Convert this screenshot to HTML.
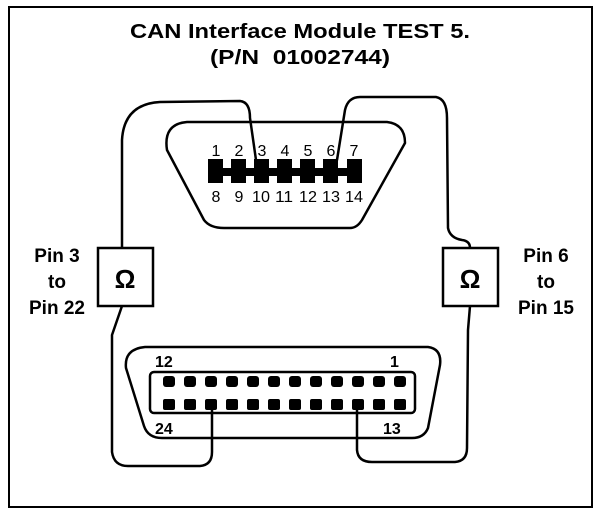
<!DOCTYPE html>
<html><head><meta charset="utf-8"><style>
html,body{margin:0;padding:0;background:#fff;}
svg{display:block;}
text{font-family:"Liberation Sans",Arial,sans-serif;fill:#000;}
</style></head><body>
<svg width="608" height="516" viewBox="0 0 608 516" xmlns="http://www.w3.org/2000/svg">
<rect x="9" y="7" width="583" height="500" fill="#fff" stroke="#000" stroke-width="2"/>
<text x="300" y="38" font-size="20" font-weight="bold" text-anchor="middle" textLength="340" lengthAdjust="spacingAndGlyphs">CAN Interface Module TEST 5.</text>
<text x="300" y="64" font-size="20" font-weight="bold" text-anchor="middle" textLength="180" lengthAdjust="spacingAndGlyphs" xml:space="preserve">(P/N  01002744)</text>

<g fill="none" stroke="#000" stroke-width="2.5" stroke-linejoin="round" stroke-linecap="round">
<path d="M187,122 L387,122 Q405,124 405,143 L362,220 Q357,228 350,228 L224,228 Q210,228 204,220 L167,150 Q163,124 187,122 Z"/>
<path d="M122,248 L122,140 Q124,104 160,102 L240,101 Q250,102 250,118 L256,160"/>
<path d="M337,160 L345,110 Q348,97 360,97 L436,97 Q447,99 447,118 L448,228 Q450,238 462,240 Q470,241 470,248"/>
<path d="M145,347 L428,347 Q442,349 440,365 L428,428 Q424,438 412,438 L162,438 Q148,438 144,426 L126,368 Q124,349 145,347 Z"/>
<rect x="150" y="372" width="265" height="41" rx="4"/>
<path d="M122,306 L112,335 L112,452 Q114,466 128,466 L200,466 Q212,465 212,452 L212,406"/>
<path d="M357,406 L357,450 Q358,462 372,462 L455,462 Q467,461 467,448 L468,330 L470,306"/>
</g>

<g fill="#000">
<rect x="208" y="168" width="154" height="8"/>
<rect x="208" y="159" width="15" height="24"/>
<rect x="231" y="159" width="15" height="24"/>
<rect x="254" y="159" width="15" height="24"/>
<rect x="277" y="159" width="15" height="24"/>
<rect x="300" y="159" width="15" height="24"/>
<rect x="323" y="159" width="15" height="24"/>
<rect x="347" y="159" width="15" height="24"/>
</g>
<g font-size="16" text-anchor="middle">
<text x="216" y="156">1</text><text x="239" y="156">2</text><text x="262" y="156">3</text><text x="285" y="156">4</text><text x="308" y="156">5</text><text x="331" y="156">6</text><text x="354" y="156">7</text>
<text x="216" y="202">8</text><text x="239" y="202">9</text><text x="261" y="202" textLength="18" lengthAdjust="spacingAndGlyphs">10</text><text x="284" y="202" textLength="18" lengthAdjust="spacingAndGlyphs">11</text><text x="308" y="202" textLength="18" lengthAdjust="spacingAndGlyphs">12</text><text x="331" y="202" textLength="18" lengthAdjust="spacingAndGlyphs">13</text><text x="354" y="202" textLength="18" lengthAdjust="spacingAndGlyphs">14</text>
</g>

<g fill="#000">
<rect x="163" y="376" width="12" height="11" rx="3"/><rect x="184" y="376" width="12" height="11" rx="3"/><rect x="205" y="376" width="12" height="11" rx="3"/><rect x="226" y="376" width="12" height="11" rx="3"/><rect x="247" y="376" width="12" height="11" rx="3"/><rect x="268" y="376" width="12" height="11" rx="3"/><rect x="289" y="376" width="12" height="11" rx="3"/><rect x="310" y="376" width="12" height="11" rx="3"/><rect x="331" y="376" width="12" height="11" rx="3"/><rect x="352" y="376" width="12" height="11" rx="3"/><rect x="373" y="376" width="12" height="11" rx="3"/><rect x="394" y="376" width="12" height="11" rx="3"/>
<rect x="163" y="399" width="12" height="11" rx="2"/><rect x="184" y="399" width="12" height="11" rx="2"/><rect x="205" y="399" width="12" height="11" rx="2"/><rect x="226" y="399" width="12" height="11" rx="2"/><rect x="247" y="399" width="12" height="11" rx="2"/><rect x="268" y="399" width="12" height="11" rx="2"/><rect x="289" y="399" width="12" height="11" rx="2"/><rect x="310" y="399" width="12" height="11" rx="2"/><rect x="331" y="399" width="12" height="11" rx="2"/><rect x="352" y="399" width="12" height="11" rx="2"/><rect x="373" y="399" width="12" height="11" rx="2"/><rect x="394" y="399" width="12" height="11" rx="2"/>
</g>
<g font-size="16" font-weight="bold">
<text x="155" y="367">12</text><text x="390" y="367">1</text>
<text x="155" y="434">24</text><text x="383" y="434">13</text>
</g>

<rect x="98" y="248" width="55" height="58" fill="#fff" stroke="#000" stroke-width="2.5"/>
<rect x="443" y="248" width="55" height="58" fill="#fff" stroke="#000" stroke-width="2.5"/>
<text x="125" y="288" font-size="26" font-weight="bold" text-anchor="middle" font-family="Liberation Serif,serif">Ω</text>
<text x="470" y="288" font-size="26" font-weight="bold" text-anchor="middle" font-family="Liberation Serif,serif">Ω</text>

<g font-size="19" font-weight="bold" text-anchor="middle">
<text x="57" y="262">Pin 3</text><text x="57" y="288">to</text><text x="57" y="314">Pin 22</text>
<text x="546" y="262">Pin 6</text><text x="546" y="288">to</text><text x="546" y="314">Pin 15</text>
</g>
</svg>
</body></html>
